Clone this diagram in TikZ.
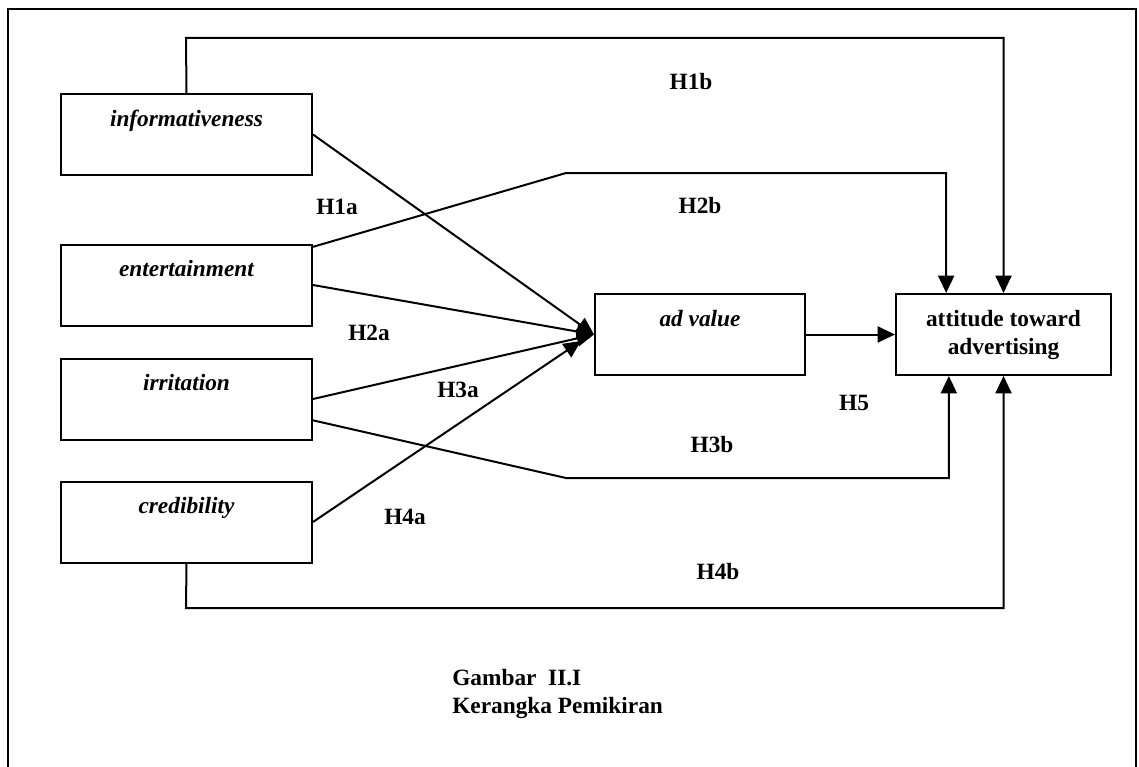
\documentclass[tikz,border=0pt]{standalone}
\usepackage{fontspec}
\setmainfont{Liberation Serif}
\usetikzlibrary{arrows.meta,calc}
\begin{document}
\begin{tikzpicture}[x=0.75pt,y=-0.75pt,
  every node/.style={font=\fontsize{17.5pt}{21pt}\selectfont},
  varbox/.style={draw, line width=1.5pt, rectangle, inner sep=0pt, align=center,
    font=\fontsize{17.5pt}{21pt}\selectfont\bfseries\itshape,
    minimum width=188.25pt, minimum height=60.75pt},
  lab/.style={font=\fontsize{17.5pt}{21pt}\selectfont\bfseries},
  conn/.style={line width=1.5pt},
  arr/.style={conn, -{Triangle[length=13pt,width=12pt]}}]
\useasboundingbox (0,0) rectangle (1139,767);
% frame
\draw[line width=1.5pt] (8,767) -- (8,9) -- (1136,9) -- (1136,767);
% boxes
\node[varbox] (inf) at (186.5,134.5) {\strut informativeness\\\strut};
\node[varbox] (ent) at (186.5,285) {\strut entertainment\\\strut};
\node[varbox] (irr) at (186.5,399) {\strut irritation\\\strut};
\node[varbox] (cred) at (186.5,522) {\strut credibility\\\strut};
\node[varbox, minimum width=157.5pt] (adv) at (700,334.5) {\strut ad value\\\strut};
\node[varbox, minimum width=161.25pt, font=\fontsize{17.5pt}{21pt}\selectfont\bfseries] (att) at (1003.5,334.5) {\strut attitude toward\\\strut advertising};
% helper coordinates
\coordinate (h1top) at (186,38);
\coordinate (h2k) at (566,173);
\coordinate (h3k) at (566,478);
\coordinate (h4bot) at (186,608);
\coordinate (h4tip) at ($(adv.west)+(-13,6.5)$);
% paths to ad value
\draw[arr] (inf.east) -- (adv.west);
\draw[arr] (ent.east) -- (adv.west);
\draw[arr] (irr.east) -- (adv.west);
\draw[arr] (cred.east) -- (h4tip);
% H5
\draw[arr] (adv.east) -- (att.west);
% direct paths to attitude
\draw[arr] (inf.north) -- (h1top) -| (att.north);
\draw[arr] ([yshift=-2.5pt]ent.north east) -- (h2k) -| ([xshift=-43pt]att.north);
\draw[arr] ([yshift=-16pt]irr.east) -- (h3k) -| ([xshift=-41pt]att.south);
\draw[arr] (cred.south) -- (h4bot) -| (att.south);
% labels
\node[lab] (l1b) at (691,82) {H1b};
\node[lab] (l2b) at (700,206) {H2b};
\node[lab] (l1a) at (337,207) {H1a};
\node[lab] (l2a) at (369,333) {H2a};
\node[lab] (l3a) at (458,390) {H3a};
\node[lab] (l4a) at (405,517) {H4a};
\node[lab] (l5) at (854,403) {H5};
\node[lab] (l3b) at (712,445) {H3b};
\node[lab] (l4b) at (718,572) {H4b};
\node[lab, anchor=west, align=left, inner sep=0pt] (cap) at (452,694) {Gambar\ \ II.I\\Kerangka Pemikiran};
\end{tikzpicture}
\end{document}
